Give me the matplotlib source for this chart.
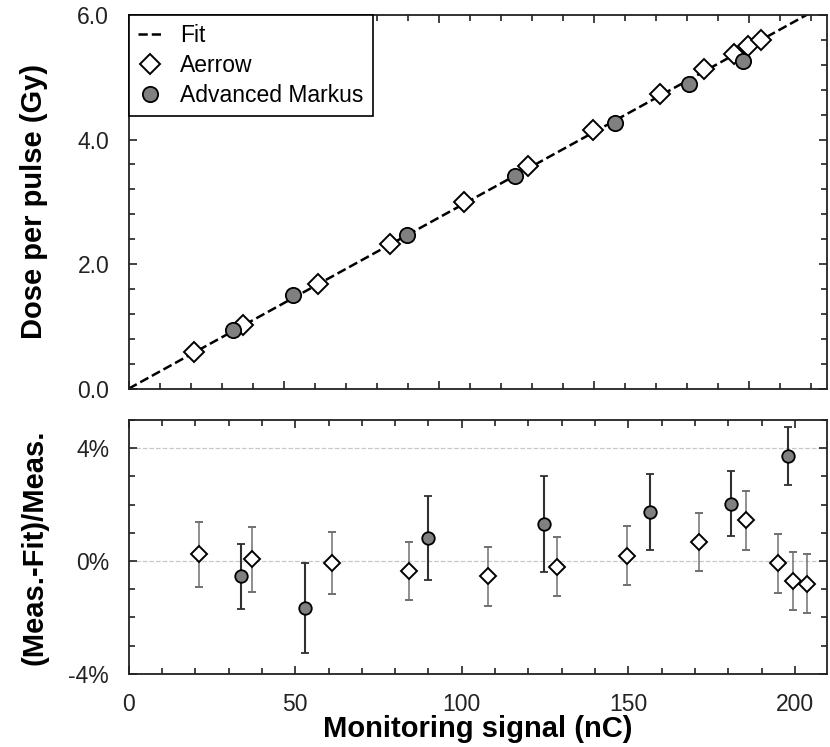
import matplotlib
matplotlib.use('Agg')
import matplotlib.pyplot as plt
from matplotlib.ticker import MultipleLocator, FixedLocator, FixedFormatter

plt.rcParams['font.family'] = ['Liberation Sans', 'DejaVu Sans']

# Aerrow data
aer_x = [21.0, 36.9, 61.0, 84.2, 108.0, 128.7, 149.6, 171.3, 185.3, 195.0, 199.5, 203.6]
aer_dose = [0.585, 1.025, 1.685, 2.33, 3.00, 3.57, 4.15, 4.73, 5.13, 5.38, 5.50, 5.60]
aer_res = [0.24, 0.06, -0.07, -0.36, -0.54, -0.20, 0.19, 0.67, 1.45, -0.08, -0.71, -0.81]
aer_err = [1.15, 1.15, 1.10, 1.03, 1.04, 1.05, 1.05, 1.04, 1.05, 1.05, 1.03, 1.05]

# Advanced Markus data
mk_x = [33.7, 53.0, 89.8, 124.6, 156.6, 180.7, 198.0]
mk_dose = [0.945, 1.51, 2.47, 3.41, 4.26, 4.89, 5.26]
mk_res = [-0.55, -1.66, 0.81, 1.32, 1.73, 2.03, 3.72]
mk_err = [1.14, 1.60, 1.50, 1.70, 1.34, 1.15, 1.03]

# fit line (through origin)
fit_slope = 0.02747
fit_x = [0, 225]

fig = plt.figure(figsize=(8.3, 7.47), dpi=100)
ax1 = fig.add_axes([0.155, 0.4797, 0.8413, 0.5003])
ax2 = fig.add_axes([0.155, 0.0981, 0.8413, 0.3396])

# --- top panel
ax1.plot(fit_x, [fit_slope * x for x in fit_x], '--', color='black', lw=1.8, label='Fit', zorder=2)
ax1.plot(aer_x, aer_dose, 'D', ms=10, mfc='white', mec='black', mew=1.4, label='Aerrow', zorder=3)
ax1.plot(mk_x, mk_dose, 'o', ms=11, mfc='#808080', mec='black', mew=1.3, label='Advanced Markus', zorder=4)
ax1.set_xlim(0, 225)
ax1.set_ylim(0, 6.0)
ax1.xaxis.set_major_locator(MultipleLocator(50))
ax1.xaxis.set_minor_locator(MultipleLocator(10))
ax1.set_xticklabels([])
ax1.yaxis.set_major_locator(MultipleLocator(2.0))
ax1.yaxis.set_minor_locator(MultipleLocator(0.4))
ax1.yaxis.set_major_formatter(matplotlib.ticker.FormatStrFormatter('%.1f'))
ax1.set_ylabel('Dose per pulse (Gy)', fontsize=21, fontweight='bold')
ax1.yaxis.set_label_coords(-0.115, 0.5)

leg = ax1.legend(loc='upper left', borderaxespad=0, fancybox=False, edgecolor='black',
                 fontsize=16.5, handlelength=1.1, handletextpad=0.75, labelspacing=0.3,
                 borderpad=0.4, framealpha=1)
leg.get_frame().set_linewidth(1.2)

# --- bottom panel
ax2.yaxis.grid(True, which='major', linestyle='--', color='#c8c8c8', lw=0.9)
ax2.set_axisbelow(True)
ax2.errorbar(aer_x, aer_res, yerr=aer_err, fmt='D', ms=8.5, mfc='white', mec='black', mew=1.4,
             ecolor='#707070', elinewidth=1.1, capsize=3, capthick=1.1, zorder=3)
ax2.errorbar(mk_x, mk_res, yerr=mk_err, fmt='o', ms=9, mfc='#808080', mec='black', mew=1.3,
             ecolor='#303030', elinewidth=1.5, capsize=3, capthick=1.5, zorder=4)
ax2.set_xlim(0, 209.6)
ax2.set_ylim(-4, 5)
ax2.xaxis.set_major_locator(MultipleLocator(50))
ax2.xaxis.set_minor_locator(MultipleLocator(10))
ax2.yaxis.set_major_locator(FixedLocator([-4, 0, 4]))
ax2.yaxis.set_major_formatter(FixedFormatter(['-4%', '0%', '4%']))
ax2.yaxis.set_minor_locator(MultipleLocator(1))
ax2.set_ylabel('(Meas.-Fit)/Meas.', fontsize=21, fontweight='bold')
ax2.yaxis.set_label_coords(-0.115, 0.5)
ax2.set_xlabel('Monitoring signal (nC)', fontsize=21, fontweight='bold', labelpad=-1)

for ax in (ax1, ax2):
    ax.tick_params(which='both', direction='in', top=True, right=True, labelsize=16.5, pad=14,
                   color='#222222', labelcolor='#222222')
    ax.tick_params(which='major', length=6, width=1.2)
    ax.tick_params(which='minor', length=4.5, width=1.2)
    for sp in ax.spines.values():
        sp.set_linewidth(1.3)
        sp.set_color('#222222')

fig.savefig('out.png', dpi=100)
